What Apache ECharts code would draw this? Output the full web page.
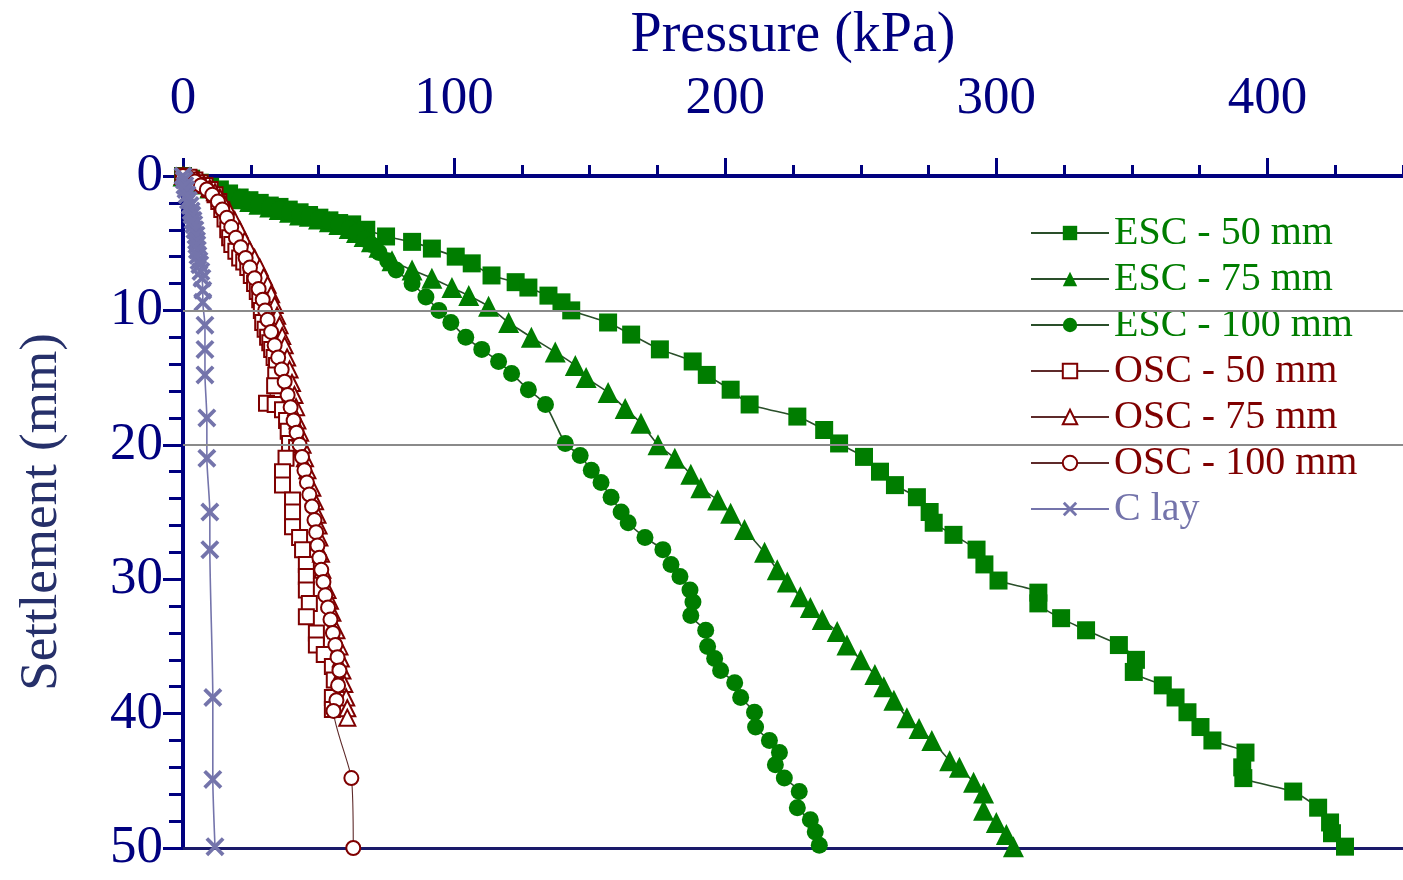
<!DOCTYPE html>
<html>
<head>
<meta charset="utf-8">
<script src="https://cdn.jsdelivr.net/npm/echarts@6/dist/echarts.min.js"></script>
<style>
html,body{margin:0;padding:0;background:#fff;}
#chart{width:1403px;height:880px;}
</style>
</head>
<body>
<div id="chart"></div>
<script>
// ---- data: [pressure kPa, settlement mm] ----
var seriesNames = ['ESC - 50 mm','ESC - 75 mm','ESC - 100 mm','OSC - 50 mm','OSC - 75 mm','OSC - 100 mm','C lay'];
var pressureTicks = [0,100,200,300,400];
var settlementTicks = [0,10,20,30,40,50];

var esc50 = [[0,0],[3,0.2],[6.2,0.5],[10,0.8],[13.6,1.0],[17,1.3],[20.9,1.6],[24.5,1.8],[28.3,2.0],[32,2.2],[35.6,2.3],[39,2.5],[43,2.7],[46.5,2.9],[50.3,3.1],[54,3.3],[57.6,3.5],[62.4,3.6],[67.6,4.0],[74.9,4.5],[84.5,4.9],[91.8,5.4],[100.6,6.0],[106.5,6.5],[113.8,7.4],[122.7,7.9],[127.4,8.3],[134.8,8.9],[139.6,9.4],[143.2,10.0],[156.8,10.9],[165.3,11.8],[175.9,12.9],[188,13.8],[193.2,14.8],[202,15.9],[209,17.0],[226.6,17.9],[236.5,18.9],[242,19.9],[251.2,20.9],[257.1,22.0],[262.6,23.0],[270.7,23.9],[275.4,25.0],[276.9,25.8],[284.2,26.7],[292.7,27.8],[295.6,28.9],[300.8,30.1],[315.5,31.0],[315.5,31.8],[323.9,32.9],[333.1,33.8],[345.2,34.9],[351.5,36.0],[350.7,36.9],[361.4,37.9],[366.1,38.8],[370.5,39.9],[375.3,41.0],[379.7,42.0],[391.9,42.9],[390.7,44.0],[391.1,44.8],[409.5,45.8],[418.7,47.0],[423.1,48.1],[423.8,48.9],[428.6,49.9]];

var esc75 = [[0,0],[2.6,0.3],[6,0.6],[9.9,0.9],[13.5,1.2],[17.3,1.5],[21,1.7],[24.6,1.9],[28,2.1],[32,2.3],[35.5,2.5],[39.3,2.7],[43,2.9],[46.6,3.0],[50,3.2],[54,3.4],[57.5,3.6],[61.3,3.9],[64,4.2],[66.8,4.5],[69.5,4.9],[72.3,5.3],[77.1,6.3],[84.5,7.0],[91.8,7.6],[99.2,8.3],[105.4,8.9],[112.7,9.7],[120.1,10.9],[128.5,12.0],[137.3,13.1],[144.7,14.1],[148.7,15.0],[156.8,16.1],[163.1,17.3],[168.9,18.4],[175.2,20.0],[181.4,21.0],[187.3,22.2],[191,23.2],[197.2,24.1],[202,25.1],[207.1,26.3],[214.5,28.0],[219.2,29.3],[222.9,30.2],[227.7,31.3],[231.4,32.1],[235.8,33.0],[241.3,33.9],[244.9,34.9],[250,36.0],[255.2,37.1],[258.5,38.0],[262.2,39.0],[267,40.3],[271.5,41.1],[276.2,42.0],[282.8,43.5],[286.4,44.0],[291.6,45.1],[295.3,45.9],[295.3,47.2],[300,48.1],[303.7,49.0],[306.3,49.9]];

var esc100 = [[0,0],[2.6,0.3],[6,0.6],[9.9,0.9],[13.5,1.2],[17.3,1.5],[21,1.7],[24.6,1.9],[28,2.1],[32,2.3],[35.5,2.5],[39.3,2.7],[43,2.9],[46.6,3.0],[50,3.2],[54,3.4],[57.5,3.6],[61.3,3.9],[64,4.2],[67,4.7],[69.5,5.1],[72.3,5.7],[75.5,6.3],[78.6,7.0],[84.5,8.0],[89.6,9.0],[94.4,10.0],[98.8,10.9],[104.3,12.0],[110.2,12.9],[116.4,13.8],[121.2,14.7],[127.4,15.9],[133.7,17.0],[141,19.9],[146.5,20.8],[150.6,21.9],[154.2,22.8],[157.9,23.9],[161.6,25.0],[164.2,25.8],[170.4,26.9],[177,27.8],[180,28.9],[183.3,29.8],[187,30.8],[188.1,31.7],[187.3,32.7],[192.8,33.8],[193.5,35.0],[196.1,35.9],[198.3,36.8],[203.5,37.7],[205.7,38.8],[210.8,39.9],[211.2,41.0],[216.3,42.0],[220,42.9],[218.5,43.8],[221.8,44.8],[227.3,45.8],[226.6,47.0],[231.4,47.9],[233.2,48.8],[234.7,49.8]];

var osc50 = [[0,0],[2.2,0.1],[4.4,0.3],[6.3,0.5],[8.1,0.7],[10,1.0],[11.8,1.4],[13.2,1.9],[14.3,2.5],[15.5,3.2],[16.5,4.0],[17.2,4.6],[18,5.1],[19.5,5.6],[20.9,6.1],[22.4,6.4],[23.9,6.8],[25.2,7.4],[26.4,8.0],[27.4,8.6],[28.3,9.2],[28.9,10.0],[29.4,10.9],[30.3,11.4],[31.2,12.0],[32,12.4],[32.7,12.9],[33.6,13.5],[34.5,14.1],[34.2,14.8],[33.8,15.6],[30.8,16.9],[34,17.0],[36.7,17.4],[38.2,18.2],[38.8,19.0],[39.3,19.9],[41.9,20.2],[38,21.0],[36.7,22.0],[36.7,23.0],[40.4,24.1],[40.4,25.0],[40.4,26.1],[43,26.9],[44.1,27.8],[45.5,28.9],[45.5,29.8],[45.5,30.8],[46.6,31.8],[45.5,32.8],[49.2,34.0],[49.2,34.9],[52.1,35.6],[55.1,36.5],[55.8,37.5],[55.1,38.8],[55.1,39.7]];

var osc75 = [[0,0],[2.8,0.15],[5.5,0.3],[7.7,0.6],[9.9,0.9],[11.8,1.2],[13.6,1.6],[15.4,2.1],[17.3,2.7],[19.1,3.3],[20.9,4.0],[22.8,4.8],[24.6,5.5],[26.4,6.1],[28.3,6.8],[29.8,7.5],[31.2,8.1],[32.5,8.8],[33.8,9.6],[34.7,10.4],[35.6,11.1],[36.6,11.9],[37.5,12.6],[38.4,13.5],[39.3,14.4],[40.2,15.4],[41.1,16.3],[41.7,17.2],[42.2,18.2],[43.2,19.1],[44.1,20.0],[45,21.0],[45.9,21.9],[47.7,23.2],[48.7,24.2],[49.6,25.2],[50,26.0],[50.3,26.9],[50.9,28.1],[51.4,29.3],[53.3,30.8],[54.2,31.6],[55.1,32.5],[56.6,33.8],[57.7,35.0],[58.2,35.9],[58.8,36.8],[59.5,37.8],[60.2,38.8],[60.6,39.6],[60.6,40.3]];

var osc100 = [[0,0],[2.2,0.2],[4.4,0.4],[6.6,0.7],[8.8,1.0],[10.8,1.4],[12.9,1.9],[14.5,2.5],[16.2,3.1],[17.8,3.8],[19.5,4.6],[21.3,5.3],[23.1,6.1],[24.7,6.8],[26.4,7.6],[27.9,8.4],[29.4,9.2],[30.3,10.0],[31.2,10.7],[32.5,11.6],[33.8,12.6],[35.1,13.5],[36.4,14.4],[37.5,15.3],[38.6,16.3],[39.7,17.2],[40.8,18.2],[41.9,19.1],[43,20.0],[43.9,20.9],[44.8,21.9],[45.7,22.8],[46.6,23.7],[47.6,24.6],[48.5,25.6],[49.1,26.5],[49.6,27.5],[50.3,28.4],[51,29.3],[51.8,30.2],[52.5,31.2],[53.5,32.1],[54.4,33.0],[55.3,34.0],[56.2,34.9],[57,35.8],[57.7,36.8],[57.2,37.9],[56.6,39.0],[55.5,39.8],[62.1,44.8],[62.8,50.0]];

var clay = [[0,0],[0.4,0.3],[0.7,0.7],[1.1,1.0],[1.5,1.4],[2.0,1.8],[2.6,2.2],[3.0,2.6],[3.3,2.9],[3.7,3.3],[4.0,3.6],[4.4,4.0],[4.8,4.4],[5.0,4.8],[5.1,5.1],[5.3,5.5],[5.5,5.9],[5.9,6.3],[6.2,6.6],[6.6,7.1],[7,7.6],[7.3,8.5],[7.3,9.4],[8.1,11.1],[8.1,12.9],[8.1,14.8],[8.8,18.0],[8.8,21.0],[9.9,25.0],[9.9,27.8],[11,38.8],[11,44.9],[11.8,49.9]];

var GREEN = '#007d00', RED = '#7f0000', CLAY = '#7474ab', NAVY = '#00007f';
var FONT = "'Liberation Serif','Times New Roman',serif";
var crossPath = 'path://M0,1.4 L1.4,0 L5,3.6 L8.6,0 L10,1.4 L6.4,5 L10,8.6 L8.6,10 L5,6.4 L1.4,10 L0,8.6 L3.6,5 Z';

var chart = echarts.init(document.getElementById('chart'), null, {renderer:'canvas'});

function mkSeries(name, data, symbol, size, color, lineColor, lineWidth, empty) {
  return {
    name: name, type: 'line', data: data,
    xAxisIndex: 0, yAxisIndex: 0,
    symbol: symbol, symbolSize: size, showAllSymbol: true,
    smooth: 0.2,
    lineStyle: {color: lineColor, width: lineWidth},
    itemStyle: empty ? {color: color, borderColor: color, borderWidth: 2.4} : {color: color, borderColor: color, borderWidth: 0},
    emphasis: {disabled: true},
    z: 3
  };
}

var series = [
  mkSeries(seriesNames[0], esc50, 'rect', 18, GREEN, '#2a4f2a', 1.6, false),
  mkSeries(seriesNames[1], esc75, 'triangle', 21, GREEN, '#2a4f2a', 1.6, false),
  mkSeries(seriesNames[2], esc100, 'circle', 17, GREEN, '#2a4f2a', 1.6, false),
  mkSeries(seriesNames[3], osc50, 'emptyRect', 15, RED, '#5e2a2a', 1.1, true),
  mkSeries(seriesNames[4], osc75, 'emptyTriangle', 16, RED, '#5e2a2a', 1.1, true),
  mkSeries(seriesNames[5], osc100, 'emptyCircle', 14, RED, '#5e2a2a', 1.1, true),
  mkSeries(seriesNames[6], clay, crossPath, 19, CLAY, CLAY, 1.6, false)
];
series[6].markLine = {
  silent: true, symbol: ['none','none'],
  label: {show: false},
  lineStyle: {color: '#8a8a8a', width: 2, type: 'solid'},
  data: [{yAxis: settlementTicks[1]}, {yAxis: settlementTicks[2]}]
};
series[6].z = 4;

var legendColors = [GREEN, GREEN, GREEN, RED, RED, RED, CLAY];

var option = {
  animation: false,
  backgroundColor: '#fff',
  grid: {left: 183, top: 176, right: -5, bottom: 32, containLabel: false},
  legend: {
    orient: 'vertical', left: 1018, top: 207,
    backgroundColor: '#fff', padding: [6, 12, 6, 12],
    itemWidth: 78, itemHeight: 18, itemGap: 6,
    selectedMode: false,
    textStyle: {fontFamily: FONT, fontSize: 40, lineHeight: 40},
    data: seriesNames.map(function (n, i) { return {name: n, textStyle: {color: legendColors[i]}}; })
  },
  xAxis: [
    {
      type: 'value', position: 'top', min: 0, max: 450, interval: 100,
      name: 'Pressure (kPa)', nameLocation: 'middle', nameGap: 112,
      nameTextStyle: {fontFamily: FONT, fontSize: 56, color: NAVY},
      axisLine: {show: true, onZero: false, lineStyle: {color: NAVY, width: 4}},
      axisTick: {show: true, inside: false, length: 18, lineStyle: {color: NAVY, width: 3}},
      axisLabel: {
        show: true, margin: 50, fontFamily: FONT, fontSize: 53, color: NAVY, showMaxLabel: false,
        formatter: function (v) { return pressureTicks.indexOf(v) >= 0 ? String(v) : ''; }
      },
      splitLine: {show: false}
    },
    {
      type: 'value', position: 'top', min: 0, max: 450, interval: 25,
      axisLine: {show: false},
      axisTick: {show: true, inside: false, length: 11, lineStyle: {color: NAVY, width: 3}},
      axisLabel: {show: false},
      splitLine: {show: false}
    },
    {
      type: 'value', position: 'bottom', min: 0, max: 450,
      axisLine: {show: true, onZero: false, lineStyle: {color: '#1a1a6a', width: 3}},
      axisTick: {show: false}, axisLabel: {show: false}, splitLine: {show: false}
    }
  ],
  yAxis: [
    {
      type: 'value', inverse: true, min: 0, max: 50, interval: 10,
      name: 'Settlement (mm)', nameLocation: 'middle', nameGap: 114, nameRotate: 90,
      nameTextStyle: {fontFamily: FONT, fontSize: 53, color: '#26306a'},
      axisLine: {show: true, onZero: false, lineStyle: {color: NAVY, width: 4}},
      axisTick: {show: true, inside: false, length: 20, lineStyle: {color: NAVY, width: 3}},
      minorTick: {show: true, splitNumber: 5, length: 14, lineStyle: {color: NAVY, width: 3}},
      axisLabel: {
        show: true, margin: 20, fontFamily: FONT, fontSize: 53, color: NAVY,
        formatter: function (v) { return settlementTicks.indexOf(v) >= 0 ? String(v) : ''; }
      },
      splitLine: {show: false}
    }
  ],
  series: series
};
chart.setOption(option);
</script>
</body>
</html>
